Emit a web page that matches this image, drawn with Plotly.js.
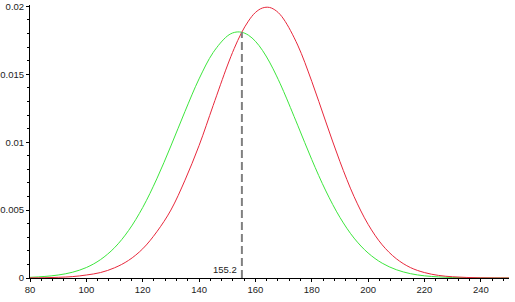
<!DOCTYPE html>
<html>
<head>
<meta charset="utf-8">
<script src="https://cdn.plot.ly/plotly-3.0.1.min.js"></script>
<style>html,body{margin:0;padding:0;background:#fff;}#chart{width:515px;height:302px;}</style>
</head>
<body>
<div id="chart"></div>
<script>
// x positions of the read-off points
var xValues = [80,85,90,95,100,105,110,115,120,125,130,135,140,145,150,152.5,155,157.5,160,162.5,165,167.5,170,175,180,185,190,195,200,205,210,215,220,225,230,235,240,245,250];
// green curve (left distribution)
var greenValues = [0.00005,0.00011,0.00022,0.00042,0.00077,0.00135,0.00223,0.0035,0.00519,0.0073,0.00972,0.01226,0.01466,0.0166,0.01781,0.01808,0.0181,0.01788,0.01743,0.01676,0.0159,0.01488,0.01374,0.01125,0.00872,0.00641,0.00446,0.00294,0.00184,0.00109,0.00061,0.00032,0.00016,0.00008,0.000035,0.000015,0.000006,0.000002,0.000001];
// red curve (right distribution)
var redValues = [0.00001,0.00002,0.00005,0.0001,0.00022,0.0004,0.00075,0.0013,0.00215,0.0034,0.005,0.0072,0.00975,0.0127,0.01561,0.01691,0.01803,0.01891,0.01955,0.01988,0.01992,0.01965,0.01907,0.01715,0.01448,0.01149,0.00857,0.006,0.00395,0.00244,0.00142,0.00077,0.0004,0.00019,0.00009,0.00004,0.000015,0.000006,0.000002];
// intersection marker
var cutX = 155.2;
var cutY = 0.0181;
var cutLabel = "155.2";
// tick labels
var xTickVals = [80,100,120,140,160,180,200,220,240];
var xTickText = ["80","100","120","140","160","180","200","220","240"];
var yTickVals = [0,0.005,0.01,0.015,0.02];
var yTickText = ["0","0.005","0.01","0.015","0.02"];

var traces = [
  {x: xValues, y: greenValues, type: "scatter", mode: "lines",
   line: {color: "#3de63d", width: 1, shape: "spline", smoothing: 1}, hoverinfo: "skip"},
  {x: xValues, y: redValues, type: "scatter", mode: "lines",
   line: {color: "#e8283c", width: 1, shape: "spline", smoothing: 1}, hoverinfo: "skip"}
];

var fontT = {family: "Liberation Sans, Arial, sans-serif", size: 9.5, color: "#222"};

var layout = {
  width: 515, height: 302,
  margin: {l: 30, r: 6, t: 5, b: 24, pad: 0},
  paper_bgcolor: "#fff", plot_bgcolor: "#fff",
  showlegend: false,
  xaxis: {
    range: [80, 250], showgrid: false, zeroline: false,
    showline: true, linecolor: "#000", linewidth: 1,
    ticks: "outside", ticklen: 3, tickcolor: "#000", tickwidth: 1,
    tickmode: "array", tickvals: xTickVals, ticktext: xTickText,
    tickfont: fontT,
    minor: {tick0: 80, dtick: 4, ticks: "outside", ticklen: 2, tickcolor: "#000", showgrid: false}
  },
  yaxis: {
    range: [0, 0.0201], showgrid: false, zeroline: false,
    showline: true, linecolor: "#000", linewidth: 1,
    ticks: "outside", ticklen: 3, tickcolor: "#000", tickwidth: 1,
    tickmode: "array", tickvals: yTickVals, ticktext: yTickText,
    tickfont: fontT,
    minor: {tick0: 0, dtick: 0.001, ticks: "outside", ticklen: 2, tickcolor: "#000", showgrid: false}
  },
  shapes: [
    {type: "line", xref: "x", yref: "y", x0: cutX, x1: cutX, y0: 0, y1: cutY,
     line: {color: "#808080", width: 2, dash: "8px,4px"}}
  ],
  annotations: [
    {x: cutX, y: 0.0006, xref: "x", yref: "y", text: cutLabel, showarrow: false,
     xanchor: "right", yanchor: "middle", xshift: -3, font: fontT}
  ]
};

Plotly.newPlot("chart", traces, layout, {displayModeBar: false, staticPlot: true});
</script>
</body>
</html>
